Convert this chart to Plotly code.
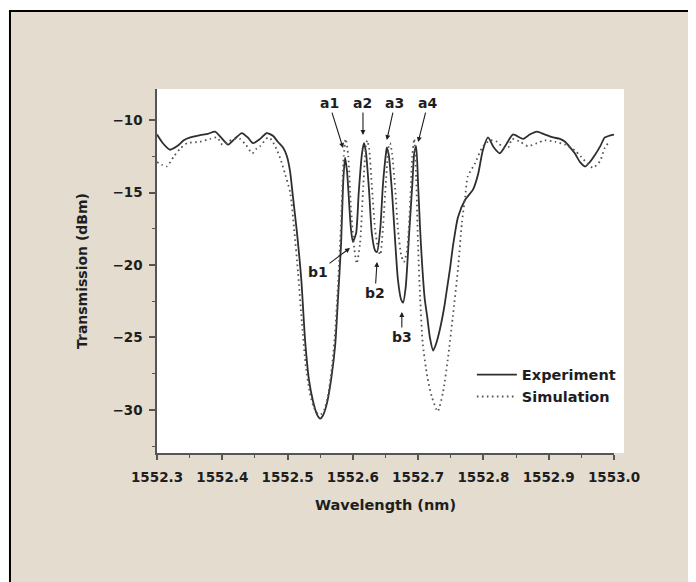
import plotly.graph_objects as go

# ---------------- data ----------------
exp_wl = [1552.300, 1552.309, 1552.320, 1552.331, 1552.341, 1552.351, 1552.366, 1552.378,
          1552.389, 1552.398, 1552.409, 1552.419, 1552.430, 1552.439, 1552.447, 1552.458,
          1552.468, 1552.478, 1552.485, 1552.493, 1552.499, 1552.504, 1552.508, 1552.514,
          1552.521, 1552.527, 1552.533, 1552.539, 1552.545, 1552.550, 1552.554, 1552.560,
          1552.567, 1552.573, 1552.577, 1552.582, 1552.585, 1552.588, 1552.591, 1552.594,
          1552.597, 1552.600, 1552.605, 1552.609, 1552.614, 1552.617, 1552.620, 1552.625,
          1552.629, 1552.634, 1552.637, 1552.642, 1552.646, 1552.651, 1552.652, 1552.655,
          1552.660, 1552.665, 1552.669, 1552.674, 1552.677, 1552.681, 1552.686, 1552.691,
          1552.694, 1552.697, 1552.700, 1552.703, 1552.706, 1552.710, 1552.714, 1552.718,
          1552.723, 1552.727, 1552.733, 1552.740, 1552.744, 1552.749, 1552.753, 1552.761,
          1552.772, 1552.784, 1552.792, 1552.799, 1552.807, 1552.816, 1552.825, 1552.836,
          1552.845, 1552.861, 1552.871, 1552.882, 1552.894, 1552.907, 1552.917, 1552.925,
          1552.933, 1552.940, 1552.948, 1552.956, 1552.963, 1552.971, 1552.979, 1552.986,
          1553.000]
exp_db = [-11.0, -11.6, -12.05, -11.8, -11.4, -11.2, -11.05, -10.95,
          -10.8, -11.2, -11.7, -11.3, -10.9, -11.2, -11.6, -11.3,
          -10.9, -11.1, -11.5, -11.9, -12.5, -13.6, -15.2, -17.6,
          -21.0, -25.3, -28.0, -29.4, -30.3, -30.6, -30.4, -29.6,
          -27.8, -25.5, -22.5, -18.5, -14.5, -12.6, -13.5, -15.5,
          -17.5, -18.4, -17.8, -15.0, -12.3, -11.6, -12.2, -15.0,
          -17.8, -19.0, -19.1, -17.5, -14.5, -12.2, -11.9, -12.4,
          -15.0, -18.5, -21.0, -22.4, -22.6, -21.5, -18.0, -14.5,
          -12.3, -11.8, -14.5, -17.5, -19.9, -22.3, -23.6, -25.0,
          -25.9, -25.5, -24.5, -22.9, -21.7, -20.2, -18.8, -16.7,
          -15.5, -14.8, -13.7, -12.1, -11.2, -11.9, -12.3, -11.6,
          -11.0, -11.3, -11.0, -10.8, -11.0, -11.2, -11.3, -11.5,
          -11.9, -12.3, -12.9, -13.2, -12.9, -12.4, -11.8, -11.2,
          -11.0]

sim_wl = [1552.300, 1552.308, 1552.315, 1552.326, 1552.335, 1552.346, 1552.366, 1552.381,
          1552.392, 1552.400, 1552.409, 1552.418, 1552.427, 1552.436, 1552.446, 1552.452,
          1552.458, 1552.470, 1552.476, 1552.484, 1552.490, 1552.496, 1552.504, 1552.510,
          1552.516, 1552.522, 1552.528, 1552.534, 1552.540, 1552.547, 1552.551, 1552.556,
          1552.562, 1552.568, 1552.573, 1552.577, 1552.582, 1552.586, 1552.589, 1552.593,
          1552.597, 1552.602, 1552.606, 1552.611, 1552.616, 1552.620, 1552.622, 1552.625,
          1552.629, 1552.634, 1552.639, 1552.642, 1552.646, 1552.651, 1552.655, 1552.657,
          1552.660, 1552.665, 1552.669, 1552.674, 1552.678, 1552.683, 1552.688, 1552.691,
          1552.694, 1552.697, 1552.700, 1552.703, 1552.707, 1552.714, 1552.721, 1552.730,
          1552.738, 1552.746, 1552.753, 1552.761, 1552.767, 1552.772, 1552.776, 1552.787,
          1552.798, 1552.810, 1552.821, 1552.830, 1552.838, 1552.844, 1552.856, 1552.868,
          1552.882, 1552.894, 1552.910, 1552.925, 1552.940, 1552.949, 1552.959, 1552.968,
          1552.979, 1552.986, 1552.991]
sim_db = [-12.9, -13.1, -13.2, -12.5, -12.0, -11.6, -11.5, -11.3,
          -11.2, -11.7, -11.5, -11.3, -11.3, -11.7, -12.3, -12.0,
          -11.8, -11.2, -11.4, -12.1, -12.8, -13.7, -15.0, -17.5,
          -20.5, -24.0, -27.0, -28.8, -29.8, -30.3, -30.3, -30.0,
          -29.0, -27.0, -24.5, -21.5, -17.0, -12.5, -11.3, -12.5,
          -16.0, -18.8, -19.9, -18.5, -14.5, -11.8, -11.4, -12.0,
          -14.5, -17.5, -19.0, -19.3, -17.5, -14.0, -11.8, -11.6,
          -12.3, -14.8, -17.5, -19.3, -19.8, -19.0, -15.5, -12.5,
          -11.3, -14.0, -18.8, -22.2, -25.4, -27.7, -29.1, -30.1,
          -28.8, -26.3, -23.6, -20.3, -17.1, -15.3, -13.9, -13.0,
          -11.9, -11.4, -11.5, -11.9, -11.9, -11.3, -11.5, -11.8,
          -11.6, -11.4, -11.5, -11.7, -12.1, -12.5, -13.0, -13.3,
          -12.8, -11.9, -11.6]

series_names = ["Experiment", "Simulation"]
x_tick_vals = [1552.3, 1552.4, 1552.5, 1552.6, 1552.7, 1552.8, 1552.9, 1553.0]
x_tick_text = ["1552.3", "1552.4", "1552.5", "1552.6", "1552.7", "1552.8", "1552.9", "1553.0"]
y_tick_vals = [-30, -25, -20, -15, -10]

# labels: (text, text_x, text_y, arrow_x, arrow_y)
peak_labels = [
    ("a1", 1552.5635, -8.83, 1552.585, -11.93),
    ("a2", 1552.6155, -8.83, 1552.6155, -11.03),
    ("a3", 1552.6645, -8.83, 1552.652, -11.38),
    ("a4", 1552.715, -8.83, 1552.700, -11.52),
    ("b1", 1552.5466, -20.48, 1552.5956, -18.83),
    ("b2", 1552.634, -21.93, 1552.637, -19.79),
    ("b3", 1552.675, -24.97, 1552.675, -23.24),
]

# ---------------- figure ----------------
FONT = "DejaVu Sans"
INK = "#1e1e1e"
BEIGE = "#e3dccf"

fig = go.Figure()
fig.add_trace(go.Scatter(x=exp_wl, y=exp_db, mode="lines", name=series_names[0],
                         line=dict(color="#2e2e2e", width=1.8, shape="spline", smoothing=0.6)))
fig.add_trace(go.Scatter(x=sim_wl, y=sim_db, mode="lines", name=series_names[1],
                         line=dict(color="#555555", width=1.8, dash="1.6px,3.4px",
                                   shape="spline", smoothing=0.6)))

for txt, tx, ty, axx, ayy in peak_labels:
    fig.add_annotation(x=axx, y=ayy, ax=tx, ay=ty, xref="x", yref="y", axref="x", ayref="y",
                       text=txt, showarrow=True, arrowhead=2, arrowsize=0.9, arrowwidth=1.1,
                       arrowcolor=INK, standoff=0, startstandoff=0,
                       font=dict(family=FONT, size=14, color=INK, weight="bold"))

shapes = [
    # white plot extension right of the last x tick
    dict(type="rect", xref="paper", yref="paper", x0=1.0, x1=1.022, y0=0, y1=1,
         fillcolor="white", line=dict(width=0), layer="below"),
    # white strip outside the frame (left / top)
    dict(type="rect", xref="paper", yref="paper", x0=-0.34, x1=-0.3239, y0=-0.36, y1=1.24,
         fillcolor="white", line=dict(width=0), layer="below"),
    dict(type="rect", xref="paper", yref="paper", x0=-0.34, x1=1.19, y0=1.217, y1=1.24,
         fillcolor="white", line=dict(width=0), layer="below"),
    # black frame lines
    dict(type="line", xref="paper", yref="paper", x0=-0.3217, x1=-0.3217, y0=-0.36, y1=1.2157,
         line=dict(color="black", width=2)),
    dict(type="line", xref="paper", yref="paper", x0=-0.3239, x1=1.19, y0=1.2143, y1=1.2143,
         line=dict(color="black", width=2)),
]

fig.update_layout(
    width=688, height=574,
    margin=dict(l=149, r=82, t=81, b=129),
    paper_bgcolor=BEIGE, plot_bgcolor="white",
    font=dict(family=FONT, size=13.5, color=INK, weight="bold"),
    shapes=shapes,
    showlegend=True,
    legend=dict(x=0.689, y=0.259, xanchor="left", yanchor="top", bgcolor="rgba(0,0,0,0)",
                itemwidth=40, font=dict(family=FONT, size=14.5, color=INK, weight="bold"),
                tracegroupgap=0, itemclick=False),
    xaxis=dict(range=[1552.3, 1553.0], tickvals=x_tick_vals, ticktext=x_tick_text,
               showgrid=False, zeroline=False, showline=True, linecolor="#555555", linewidth=1.5,
               ticks="outside", ticklen=5, tickwidth=1.5, tickcolor="#555555",
               ticklabelstandoff=6,
               minor=dict(dtick=0.05, tick0=1552.3, ticks="outside", ticklen=3, tickwidth=1.2,
                          tickcolor="#555555"),
               title=dict(text="Wavelength (nm)", standoff=16,
                          font=dict(family=FONT, size=14.5, color=INK, weight="bold"))),
    yaxis=dict(range=[-32.97, -7.86], tickvals=y_tick_vals,
               showgrid=False, zeroline=False, showline=True, linecolor="#555555", linewidth=1.5,
               ticks="outside", ticklen=6, tickwidth=1.5, tickcolor="#555555",
               ticklabelstandoff=4,
               minor=dict(dtick=2.5, tick0=-30, ticks="outside", ticklen=3, tickwidth=1.2,
                          tickcolor="#555555"),
               title=dict(text="Transmission (dBm)", standoff=22,
                          font=dict(family=FONT, size=14, color=INK, weight="bold"))),
)

fig.write_html("out.html")
